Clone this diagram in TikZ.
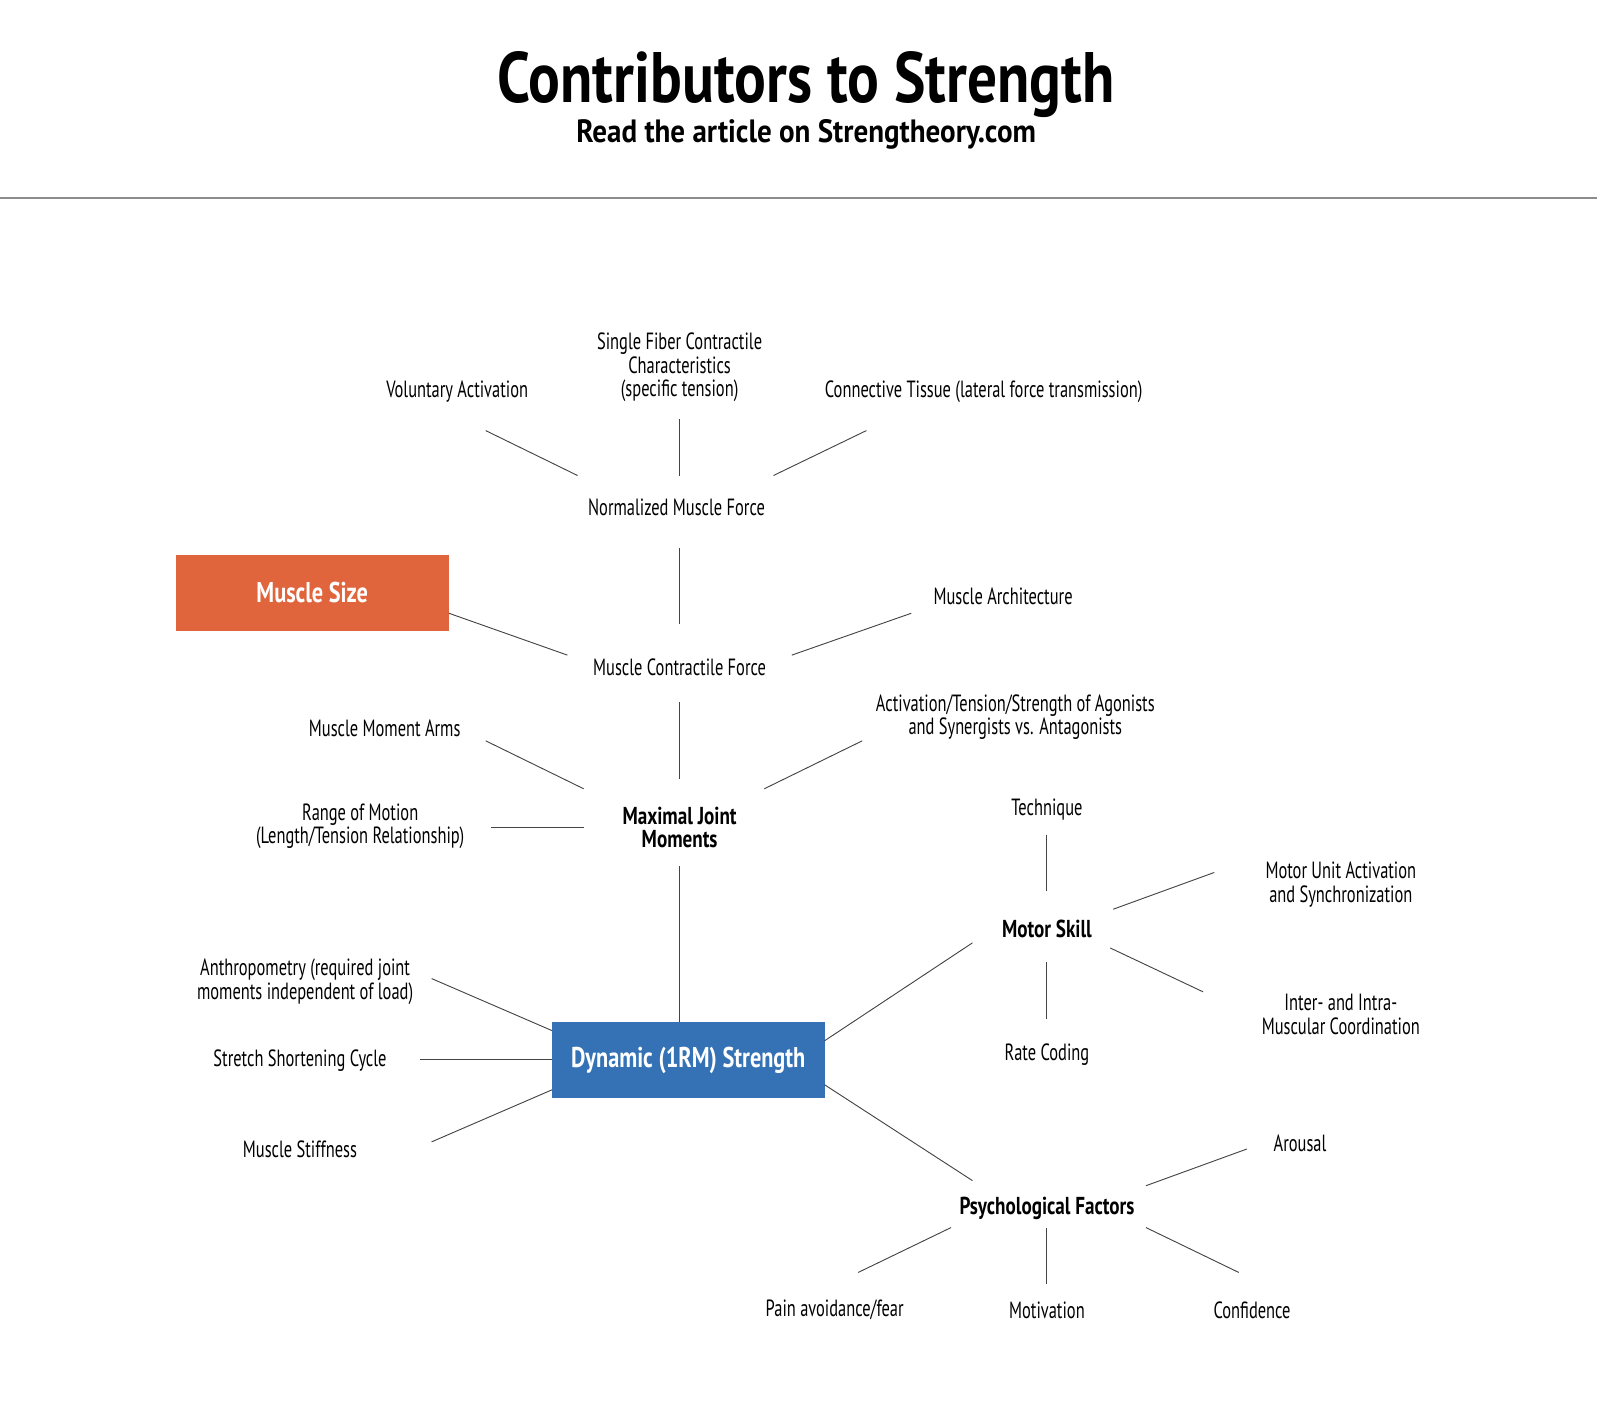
\documentclass[tikz,border=0pt]{standalone}
\usepackage{fontspec}
\setmainfont[FakeStretch=0.70]{PT Sans}
\newfontfamily\titlefont[FakeStretch=0.83]{PT Sans}
\newfontfamily\subfont[FakeStretch=0.9]{PT Sans}
\newfontfamily\boldfont[FakeStretch=0.78]{PT Sans}
\definecolor{orangebox}{HTML}{E0643C}
\definecolor{bluebox}{HTML}{3471B5}
\definecolor{linegray}{HTML}{444444}
\newcommand\linkc[3]{\coordinate (#1a) at (#2);\coordinate (#1b) at (#3);\draw[conn] (#1a) -- (#1b);}
\begin{document}
\begin{tikzpicture}[x=0.5pt,y=-0.5pt,
  lbl/.style={align=center,inner sep=0pt,yshift=-1pt,font=\fontsize{11.5}{11.5}\selectfont},
  bold/.style={lbl,font=\boldfont\fontsize{12}{11.5}\selectfont\bfseries},
  conn/.style={draw=linegray,line width=0.45pt},
  box/.style={inner sep=0pt,text=white,font=\boldfont\fontsize{14}{14}\selectfont\bfseries}]
\useasboundingbox (0,0) rectangle (1568,1391);
\fill[white] (0,0) rectangle (1568,1391);
% title
\node[inner sep=0pt,font=\titlefont\fontsize{35}{36}\selectfont\bfseries] (title) at (790,83) {Contributors to Strength};
\node[inner sep=0pt,font=\subfont\fontsize{15.8}{16}\selectfont\bfseries] (subtitle) at (790,132) {Read the article on Strengtheory.com};
\coordinate (ruleL) at (0,194);
\coordinate (ruleR) at (1565,194);
\draw[draw=black!45,line width=0.6pt] (ruleL) -- (ruleR);
% boxes
\node[box,fill=orangebox,minimum width=134pt,minimum height=37pt] (size) at (306,581) {Muscle Size};
\node[box,fill=bluebox,minimum width=133.5pt,minimum height=37pt] (dyn) at (674.5,1039) {Dynamic (1RM) Strength};
% labels
\node[lbl] (vol) at (448,382) {Voluntary Activation};
\node[lbl] (fiber) at (666,358) {Single Fiber Contractile\\Characteristics\\(specific tension)};
\node[lbl] (conntis) at (964,382) {Connective Tissue (lateral force transmission)};
\node[lbl] (nmf) at (663,495) {Normalized Muscle Force};
\node[lbl] (arch) at (983,582) {Muscle Architecture};
\node[lbl] (mcf) at (666,652) {Muscle Contractile Force};
\node[lbl] (arms) at (377,712) {Muscle Moment Arms};
\node[lbl] (agon) at (995,701) {Activation/Tension/Strength of Agonists\\and Synergists vs. Antagonists};
\node[lbl] (rom) at (353,808) {Range of Motion\\(Length/Tension Relationship)};
\node[bold] (mjm) at (666,809) {Maximal Joint\\Moments};
\node[lbl] (tech) at (1026,791) {Technique};
\node[lbl] (mua) at (1314,865) {Motor Unit Activation\\and Synchronization};
\node[bold] (skill) at (1026,908) {Motor Skill};
\node[lbl] (anthro) at (299,960) {Anthropometry (required joint\\moments independent of load)};
\node[lbl] (inter) at (1314,992) {Inter- and Intra-\\Muscular Coordination};
\node[lbl] (rate) at (1026,1032) {Rate Coding};
\node[lbl] (ssc) at (294,1037) {Stretch Shortening Cycle};
\node[lbl] (stiff) at (294,1124) {Muscle Stiffness};
\node[lbl] (arousal) at (1274,1118) {Arousal};
\node[bold] (psych) at (1026,1182) {Psychological Factors};
\node[lbl] (pain) at (818,1282) {Pain avoidance/fear};
\node[lbl] (motiv) at (1026,1282) {Motivation};
\node[lbl] (conf) at (1227,1282) {Confidence};
% connectors
\linkc{ca}{476,422}{566,466}
\linkc{cb}{666,411}{666,466}
\linkc{cc}{849,422}{758,466}
\linkc{cd}{666,537}{666,612}
\linkc{ce}{440,601}{556,642}
\linkc{cf}{893,601}{776,642}
\linkc{cg}{666,688}{666,763}
\linkc{ch}{476,726}{572,773}
\linkc{ci}{845,726}{749,773}
\linkc{cj}{481,811}{572,811}
\linkc{ck}{666,849}{666,1002}
\linkc{cl}{423,959}{541,1010}
\linkc{cm}{412,1038}{541,1038}
\linkc{cn}{423,1119}{541,1068}
\linkc{co}{808,1020}{953,924}
\linkc{cp}{808,1063}{953,1157}
\linkc{cq}{1026,818}{1026,873}
\linkc{cr}{1091,891}{1190,855}
\linkc{cs}{1088,929}{1179,972}
\linkc{ct}{1026,943}{1026,999}
\linkc{cu}{1123,1162}{1222,1126}
\linkc{cv}{932,1203}{841,1247}
\linkc{cw}{1026,1203}{1026,1258}
\linkc{cx}{1123,1203}{1214,1247}
\end{tikzpicture}
\end{document}
